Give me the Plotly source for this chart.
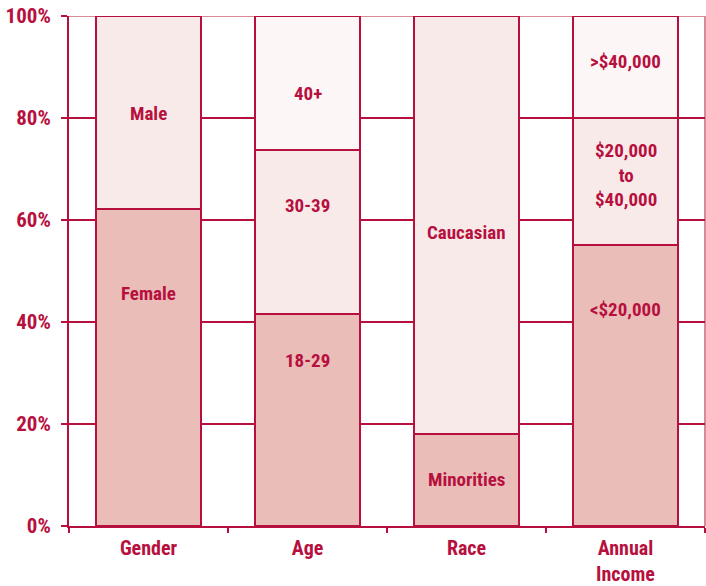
import plotly.graph_objects as go

categories = ["Gender", "Age", "Race", "Annual<br>Income"]

# segment values (%), bottom / middle / top
bottom_vals = [62.2, 41.6, 18.0, 55.1]
middle_vals = [37.8, 32.1, 82.0, 24.9]
top_vals = [None, 26.3, None, 20.0]

bottom_labels = ["Female", "18-29", "Minorities", "<$20,000"]
middle_labels = ["Male", "30-39", "Caucasian", "$20,000<br>to<br>$40,000"]
top_labels = [None, "40+", None, ">$40,000"]

# label vertical positions (%), layout only
bottom_label_y = [45.5, 32.5, 9.2, 42.5]
middle_label_y = [80.8, 62.9, 57.5, 68.8]
top_label_y = [None, 84.9, None, 91.0]

yticks = [0, 20, 40, 60, 80, 100]
ytick_text = ["0%", "20%", "40%", "60%", "80%", "100%"]

RED = "#b7103e"
FONT = "Liberation Sans Narrow, Roboto Condensed, Arial Narrow, Roboto, sans-serif"

fig = go.Figure()
for vals, color in [(bottom_vals, "#eabdb8"), (middle_vals, "#f9eaea"), (top_vals, "#fdf6f6")]:
    fig.add_trace(go.Bar(
        x=categories, y=vals,
        marker=dict(color=color, line=dict(color=RED, width=2)),
        hoverinfo="skip", showlegend=False,
    ))

for labels, ys in [(bottom_labels, bottom_label_y), (middle_labels, middle_label_y), (top_labels, top_label_y)]:
    for c, t, y in zip(categories, labels, ys):
        if t is None:
            continue
        fig.add_annotation(x=c, y=y, text="<b>%s</b>" % t, showarrow=False,
                           font=dict(family=FONT, size=19, color=RED))

fig.add_shape(type="line", xref="paper", yref="y", x0=0, x1=1, y0=100, y1=100,
              line=dict(color="#d98a97", width=2), layer="below")
fig.add_shape(type="line", xref="paper", yref="paper", x0=1, x1=1, y0=0, y1=1,
              line=dict(color="#d98a97", width=2), layer="below")

fig.update_layout(
    width=706, height=586,
    margin=dict(l=69, r=1, t=16, b=60, autoexpand=False),
    paper_bgcolor="white", plot_bgcolor="white",
    barmode="stack", bargap=0.34,
    font=dict(family=FONT, color=RED),
    xaxis=dict(
        type="category", tickson="boundaries", ticks="outside", ticklen=5,
        tickwidth=2, tickcolor=RED, showline=True, linecolor=RED, linewidth=2,
        showgrid=False, automargin=False, ticklabelstandoff=3,
        ticklabeloverflow="allow",
        tickfont=dict(family=FONT, size=20, color=RED),
        tickvals=categories,
        ticktext=["<b>%s</b>" % c for c in categories],
    ),
    yaxis=dict(
        range=[0, 100], tickvals=yticks, ticktext=["<b>%s</b>" % t for t in ytick_text],
        ticks="outside", ticklen=6, tickwidth=2, tickcolor=RED,
        showline=True, linecolor=RED, linewidth=2, automargin=False,
        ticklabelstandoff=6, ticklabeloverflow="allow",
        showgrid=True, gridcolor=RED, gridwidth=2, zeroline=False,
        tickfont=dict(family=FONT, size=21, color=RED),
    ),
)

# remove the page's default 8px body margin so the figure fills the window
fig.write_html("out.html", config={"displayModeBar": False},
               post_script="document.body.style.margin='0px';")
